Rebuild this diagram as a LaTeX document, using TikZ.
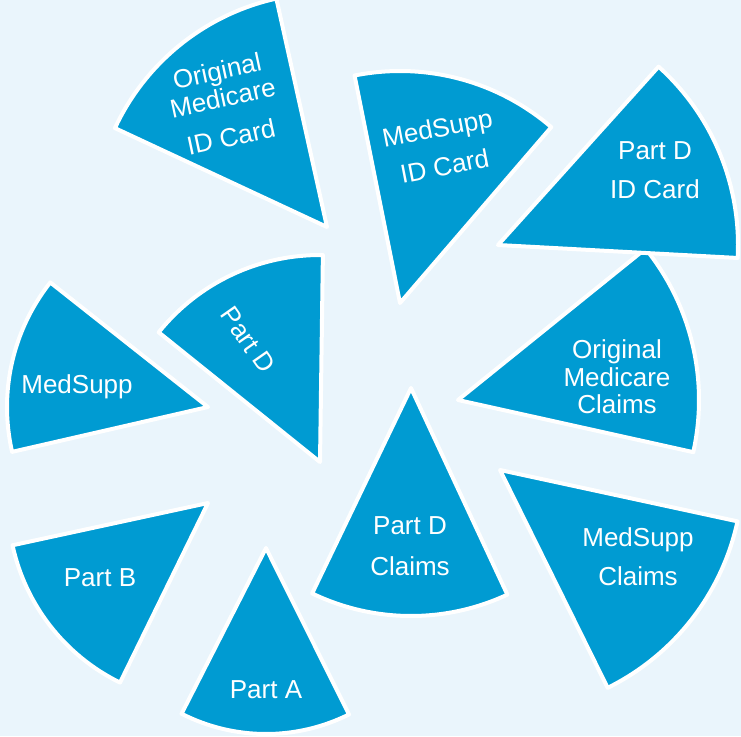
\documentclass[tikz,border=0pt]{standalone}
\usepackage{fontspec}
\setmainfont{Liberation Sans}
\definecolor{pieblue}{RGB}{0,155,210}
\definecolor{paleback}{RGB}{234,245,252}
\tikzset{
  slice/.style={fill=pieblue, draw=white, line width=4pt, line join=round},
  label/.style={text=white, align=center, inner sep=0pt,
    font=\fontsize{26}{27.5}\selectfont},
}
% \pieslice{apex}{start angle}{end angle}{radius in pt}
\newcommand{\pieslice}[4]{%
  \path[slice] (#1) -- ++(#2:#4pt) arc[start angle=#2, end angle=#3, radius=#4pt] -- cycle;}
\begin{document}
\begin{tikzpicture}[x=1pt, y=-1pt]
\fill[paleback] (0,0) rectangle (741,736);
\useasboundingbox (0,0) rectangle (741,736);

% apex points of the slices
\coordinate (omid) at (327,227);
\coordinate (msid) at (400,303);
\coordinate (omcl) at (458,400);
\coordinate (pdid) at (498,245);
\coordinate (mscl) at (500,470);
\coordinate (pdcl) at (411,388);
\coordinate (pa)   at (266,548);
\coordinate (pb)   at (208,503);
\coordinate (msl)  at (208,407);
\coordinate (pdm)  at (320,462);

\pieslice{omid}{102.5}{155}{234}
\pieslice{msid}{49.3}{101.3}{232}
\pieslice{omcl}{-12.5}{38.9}{241}
\pieslice{pdid}{-3.1}{48}{240}
\pieslice{mscl}{-63.7}{-12.2}{243}
\pieslice{pdcl}{-115.7}{-65}{228}
\pieslice{pa}{-117}{-63.5}{186}
\pieslice{pb}{192.2}{243.9}{200}
\pieslice{msl}{141.7}{192.9}{201}
\pieslice{pdm}{89.2}{141.2}{207}

% labels
\node[label, rotate=12] (tomid) at (224,104) {Original\\Medicare\\[12.5pt]ID Card};
\node[label, rotate=11] (tmsid) at (441,147) {MedSupp\\[11pt]ID Card};
\node[label] (tpdid) at (655,170) {Part D\\[11.5pt]ID Card};
\node[label] (tomcl) at (617,377) {Original\\Medicare\\Claims};
\node[label] (tmscl) at (638,557) {MedSupp\\[11.5pt]Claims};
\node[label] (tpdcl) at (410,546) {Part D\\[13pt]Claims};
\node[label] (tpa) at (266,690) {Part A};
\node[label] (tpb) at (100,578) {Part B};
\node[label] (tmsl) at (77,387) {MedSupp};
\node[label, rotate=-55] (tpdm) at (248,340) {Part D};
\end{tikzpicture}
\end{document}
